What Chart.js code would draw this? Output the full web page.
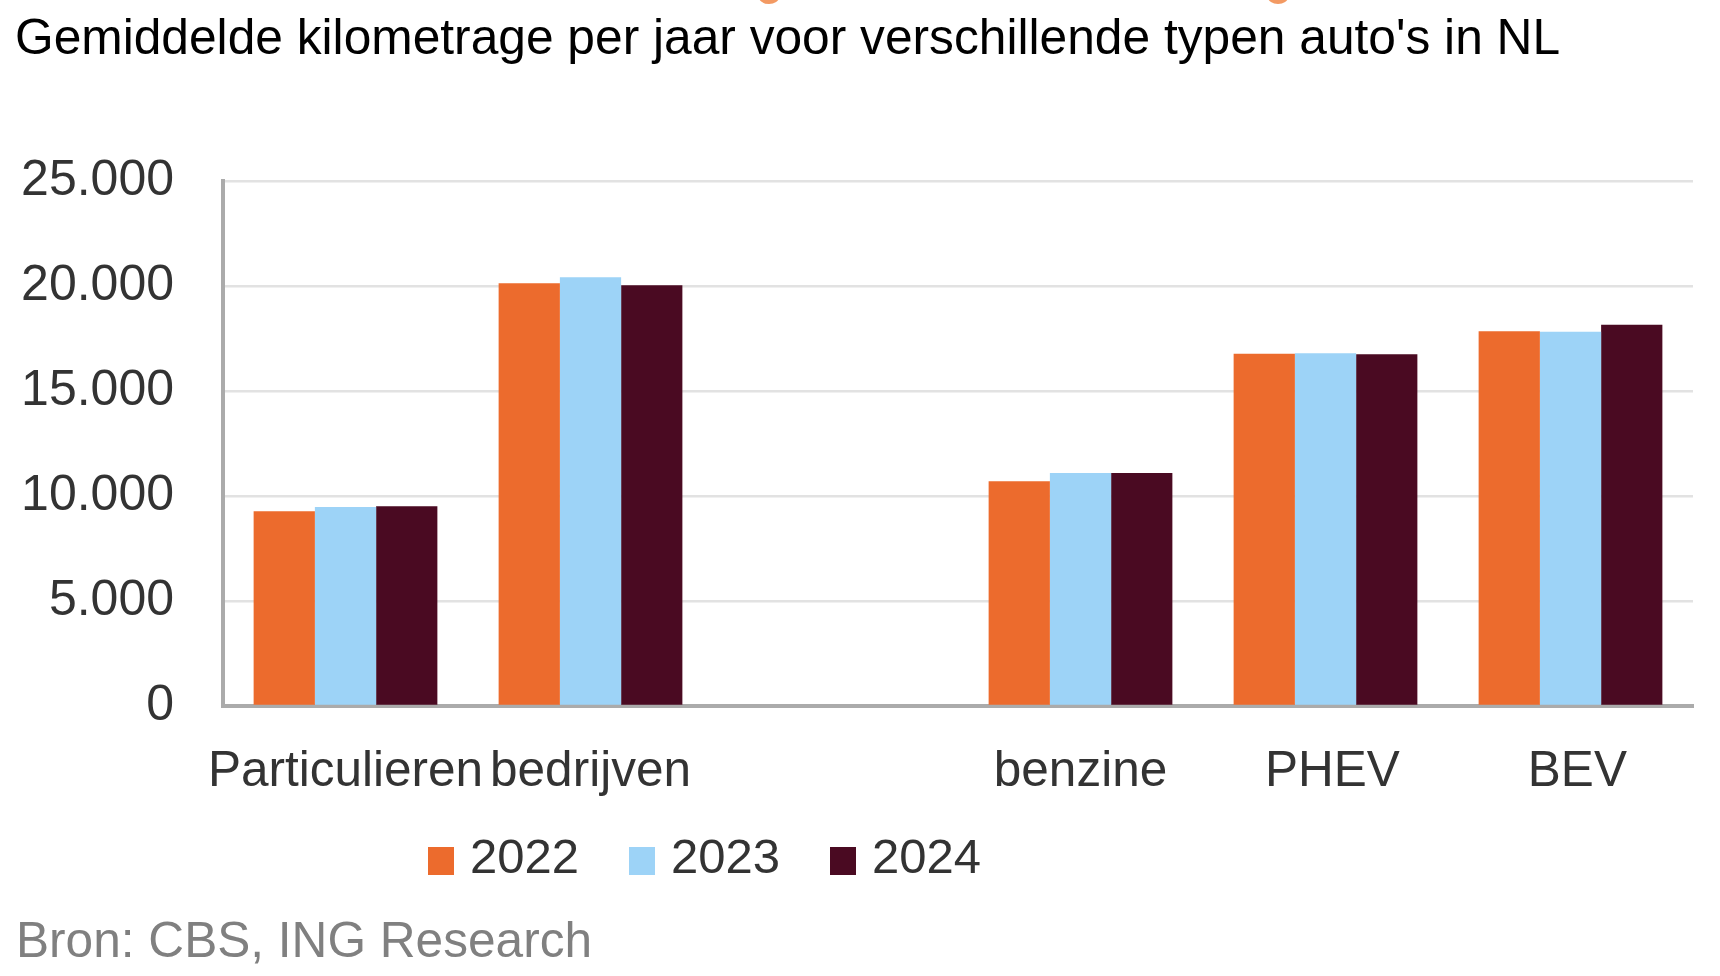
<!DOCTYPE html>
<html lang="nl">
<head>
<meta charset="utf-8">
<title>Gemiddelde kilometrage per jaar</title>
<script src="https://cdn.jsdelivr.net/npm/chart.js@4.4.1/dist/chart.umd.min.js"></script>
<style>
  html, body { margin: 0; padding: 0; background: #fff; }
  body { width: 1720px; height: 976px; position: relative; overflow: hidden;
         font-family: "Liberation Sans", Arial, Helvetica, sans-serif; }
  #chart { position: absolute; left: 0; top: 0; }
  .title { position: absolute; left: 15px; top: 13px; font-size: 49.7px; line-height: 49px;
           color: #000; white-space: nowrap; }
  .source { position: absolute; left: 16px; top: 915px; font-size: 49.6px; line-height: 51px;
            color: #808080; white-space: nowrap; }
  .blob { position: absolute; top: -9px; width: 20px; height: 13px; border-radius: 50%;
          background: #f39a63; }
  #legend { position: absolute; left: 428px; top: 832px; display: flex; align-items: center;
            font-size: 49px; line-height: 49px; color: #333; }
  #legend .item { display: flex; align-items: center; margin-right: 50px; }
  #legend .box { width: 26px; height: 28px; margin-right: 16px; margin-top: 8px; }
</style>
</head>
<body>
<div class="blob" style="left:759px"></div>
<div class="blob" style="left:1268px"></div>
<div class="title">Gemiddelde kilometrage per jaar voor verschillende typen auto's in NL</div>
<canvas id="chart" width="1720" height="976"></canvas>
<div id="legend"></div>
<div class="source">Bron: CBS, ING Research</div>

<script>
// categories (the empty one is the gap between the two groups)
const categories = ['Particulieren', 'bedrijven', '', 'benzine', ' PHEV', ' BEV'];
const years = ['2022', '2023', '2024'];

// average km per year
const km2022 = [9270, 20130, null, 10700, 16770, 17850];
const km2023 = [9480, 20420, null, 11100, 16800, 17820];
const km2024 = [9510, 20030, null, 11100, 16750, 18150];

const yTicks = [0, 5000, 10000, 15000, 20000, 25000];

const colors = ['#ec6b2d', '#9dd3f7', '#4a0a22'];

function fmt(v) {
    return String(v).replace(/\B(?=(\d{3})+(?!\d))/g, '.');
}

const fontFamily = '"Liberation Sans", Arial, Helvetica, sans-serif';

const chart = new Chart(document.getElementById('chart'), {
    type: 'bar',
    data: {
        labels: categories,
        datasets: [km2022, km2023, km2024].map((d, i) => ({
            label: years[i],
            data: d,
            backgroundColor: colors[i],
            borderWidth: 0,
            categoryPercentage: 0.75,
            barPercentage: 1.0
        }))
    },
    options: {
        responsive: false,
        animation: false,
        devicePixelRatio: 1,
        layout: { padding: { left: 0, right: 27, top: 181, bottom: 0 } },
        plugins: {
            legend: { display: false },
            tooltip: { enabled: false }
        },
        scales: {
            x: {
                z: 1,
                grid: { display: false, drawTicks: false },
                border: { color: '#ababab', width: 4 },
                ticks: {
                    padding: 37,
                    color: '#333',
                    font: { family: fontFamily, size: 49.5 },
                    maxRotation: 0,
                    autoSkip: false
                },
                afterFit: s => { s.height = 270; }
            },
            y: {
                min: 0,
                max: 25000,
                afterBuildTicks: s => { s.ticks = yTicks.map(v => ({ value: v })); },
                grid: { color: '#e2e2e2', lineWidth: 2.5, drawTicks: false },
                border: { color: '#ababab', width: 4 },
                ticks: {
                    padding: 49,
                    color: '#333',
                    font: { family: fontFamily, size: 50 },
                    callback: v => fmt(v)
                },
                afterFit: s => { s.width = 223; }
            }
        }
    }
});

// legend built from the datasets
const legend = document.getElementById('legend');
chart.data.datasets.forEach(ds => {
    const item = document.createElement('div');
    item.className = 'item';
    item.innerHTML = `<span class="box" style="background:${ds.backgroundColor}"></span><span>${ds.label}</span>`;
    legend.appendChild(item);
});
</script>
</body>
</html>
